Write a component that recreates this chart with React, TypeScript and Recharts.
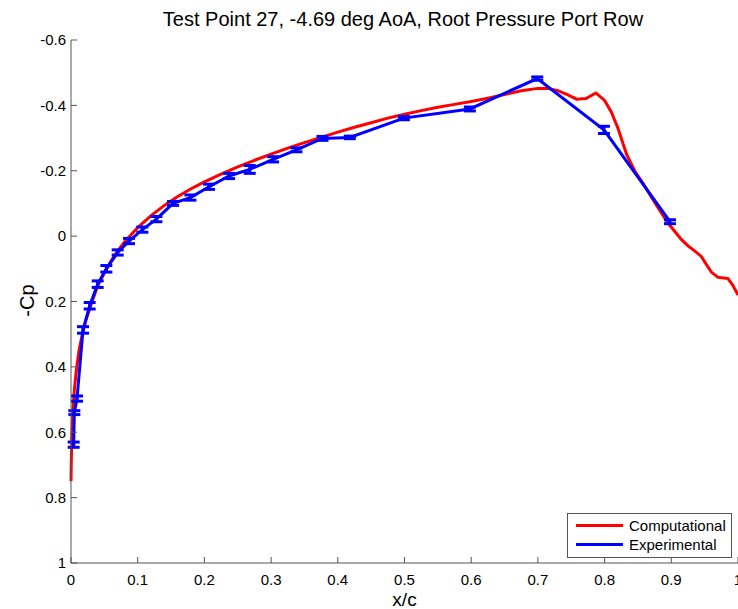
import React from 'react';
import { ComposedChart, Line, XAxis, YAxis, ErrorBar, Legend } from 'recharts';

// Computational (CFD) curve
const compX = [0, 0.0005, 0.0015, 0.003, 0.005, 0.008, 0.012, 0.017, 0.022, 0.03, 0.04, 0.05, 0.06, 0.07, 0.08, 0.09, 0.1, 0.12, 0.14, 0.16, 0.18, 0.2, 0.225, 0.25, 0.275, 0.3, 0.325, 0.35, 0.375, 0.4, 0.425, 0.45, 0.475, 0.5, 0.525, 0.55, 0.575, 0.6, 0.625, 0.65, 0.675, 0.7, 0.715, 0.73, 0.745, 0.758, 0.772, 0.787, 0.8, 0.81, 0.82, 0.833, 0.845, 0.858, 0.87, 0.883, 0.895, 0.905, 0.915, 0.925, 0.935, 0.945, 0.952, 0.96, 0.97, 0.985, 0.992, 1.0];
const compCp = [0.75, 0.68, 0.6, 0.53, 0.47, 0.41, 0.35, 0.3, 0.26, 0.21, 0.152, 0.112, 0.076, 0.045, 0.019, -0.004, -0.026, -0.063, -0.094, -0.121, -0.145, -0.166, -0.19, -0.212, -0.232, -0.251, -0.269, -0.286, -0.302, -0.318, -0.333, -0.347, -0.361, -0.373, -0.384, -0.394, -0.403, -0.412, -0.422, -0.433, -0.445, -0.452, -0.452, -0.445, -0.432, -0.419, -0.421, -0.438, -0.415, -0.38, -0.33, -0.25, -0.2, -0.16, -0.12, -0.078, -0.04, -0.015, 0.01, 0.03, 0.045, 0.062, 0.085, 0.11, 0.126, 0.13, 0.15, 0.18];

// Experimental pressure ports
const expX = [0.004, 0.005, 0.009, 0.018, 0.028, 0.04, 0.053, 0.07, 0.087, 0.107, 0.128, 0.153, 0.179, 0.207, 0.237, 0.268, 0.303, 0.338, 0.377, 0.418, 0.499, 0.598, 0.699, 0.799, 0.898];
const expCp = [0.638, 0.54, 0.497, 0.287, 0.213, 0.147, 0.1, 0.05, 0.015, -0.02, -0.052, -0.1, -0.118, -0.151, -0.184, -0.204, -0.235, -0.264, -0.299, -0.302, -0.361, -0.389, -0.482, -0.325, -0.044];
const expErr = [0.008, 0.006, 0.008, 0.01, 0.01, 0.01, 0.01, 0.008, 0.008, 0.008, 0.008, 0.006, 0.008, 0.008, 0.008, 0.012, 0.008, 0.006, 0.006, 0.004, 0.005, 0.006, 0.005, 0.011, 0.006];

const xTicks = [0, 0.1, 0.2, 0.3, 0.4, 0.5, 0.6, 0.7, 0.8, 0.9, 1];
const yTicks = [-0.6, -0.4, -0.2, 0, 0.2, 0.4, 0.6, 0.8, 1];

const title = 'Test Point 27, -4.69 deg AoA, Root Pressure Port Row';
const xLabel = 'x/c';
const yLabel = '-Cp';

const compData = compX.map((x, i) => ({ x, cp: compCp[i] }));
const expData = expX.map((x, i) => ({ x, cp: expCp[i], err: expErr[i] }));

const FONT = '"Liberation Sans", Arial, sans-serif';
const AXIS = '#555555';

const renderLegend = (props: any) => {
  const payload = props.payload || [];
  return (
    <div
      style={{
        width: 165,
        height: 45,
        boxSizing: 'border-box',
        border: `1px solid ${AXIS}`,
        background: '#fff',
        fontFamily: FONT,
        fontSize: 15,
        color: '#000',
        paddingTop: 2,
      }}
    >
      {payload.map((p: any) => (
        <div key={p.value} style={{ display: 'flex', alignItems: 'center', height: 19 }}>
          <div style={{ width: 47, height: 3, background: p.color, marginLeft: 8, marginRight: 6 }} />
          <span>{p.value}</span>
        </div>
      ))}
    </div>
  );
};

export default function App() {
  return (
    <div style={{ position: 'absolute', left: 0, top: 0, width: 738, height: 609, overflow: 'hidden', background: '#fff' }}>
      <div
        style={{
          position: 'absolute',
          left: 0,
          width: 806,
          top: 8,
          textAlign: 'center',
          fontFamily: FONT,
          fontSize: 20,
          lineHeight: '22px',
          color: '#000',
          whiteSpace: 'nowrap',
        }}
      >
        {title}
      </div>
      <ComposedChart width={738} height={609} margin={{ top: 40, right: 0, bottom: 0, left: 0 }}>
        <XAxis
          type="number"
          dataKey="x"
          domain={[0, 1]}
          ticks={xTicks}
          interval={0}
          height={46}
          tickSize={-6}
          tickMargin={17}
          axisLine={{ stroke: AXIS }}
          tickLine={{ stroke: AXIS }}
          tick={{ fill: '#000', fontSize: 15, fontFamily: FONT }}
          label={{
            content: (p: any) => {
              const vb = p.viewBox || {};
              return (
                <text x={vb.x + vb.width / 2} y={vb.y + 43} textAnchor="middle" fontSize={19} fontFamily={FONT} fill="#000">
                  {xLabel}
                </text>
              );
            },
          }}
        />
        <YAxis
          type="number"
          dataKey="cp"
          domain={[-0.6, 1]}
          reversed
          ticks={yTicks}
          interval={0}
          width={71}
          tickSize={-6}
          tickMargin={11}
          axisLine={{ stroke: AXIS }}
          tickLine={{ stroke: AXIS }}
          tick={{ fill: '#000', fontSize: 15, fontFamily: FONT }}
          label={{
            content: (p: any) => {
              const vb = p.viewBox || {};
              const cx = vb.x + 34;
              const cy = vb.y + vb.height / 2 - 1;
              return (
                <text x={cx} y={cy} transform={`rotate(-90 ${cx} ${cy})`} textAnchor="middle" fontSize={20} fontFamily={FONT} fill="#000">
                  {yLabel}
                </text>
              );
            },
          }}
        />
        <Line
          data={compData}
          dataKey="cp"
          name="Computational"
          type="linear"
          stroke="#FF0000"
          strokeWidth={3}
          dot={false}
          isAnimationActive={false}
        />
        <Line
          data={expData}
          dataKey="cp"
          name="Experimental"
          type="linear"
          stroke="#0000FF"
          strokeWidth={3}
          dot={false}
          isAnimationActive={false}
        >
          <ErrorBar dataKey="err" direction="y" width={6} stroke="#0000FF" strokeWidth={3} isAnimationActive={false} />
        </Line>
        <Legend
          layout="vertical"
          align="center"
          verticalAlign="middle"
          content={renderLegend}
          wrapperStyle={{ position: 'absolute', left: 567, top: 513, right: 'auto', bottom: 'auto', width: 165, height: 45 }}
        />
      </ComposedChart>
    </div>
  );
}
